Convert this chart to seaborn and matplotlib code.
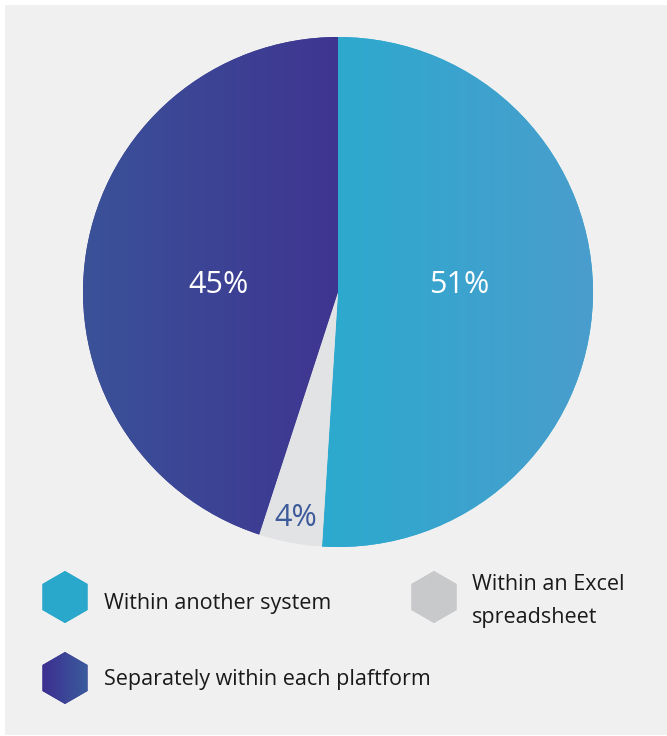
import numpy as np
import matplotlib
matplotlib.use("Agg")
import matplotlib.pyplot as plt
from matplotlib.patches import RegularPolygon, Rectangle
import seaborn as sns

# Where the data is stored
categories = ["Within another system", "Within an Excel spreadsheet",
              "Separately within each plaftform"]
shares = [51, 4, 45]
legend_labels = ["Within another system", "Within an Excel\nspreadsheet",
                 "Separately within each plaftform"]

sns.set_theme(style="white")
plt.rcParams["font.family"] = ["Open Sans", "DejaVu Sans"]

W, H = 667, 736
fig = plt.figure(figsize=(W / 100, H / 100), dpi=100, facecolor="white")

# light grey panel
fig.patches.append(Rectangle((5 / W, 1 / H), 1 - 5 / W, 730 / H,
                             transform=fig.transFigure, facecolor="#f0f0f0",
                             edgecolor="none", zorder=-10))

# gradient colour pairs (left -> right) per slice
wedge_grad = [("#2caacf", "#4a9dcc"), ("#e2e3e5", "#e2e3e5"), ("#3a5299", "#3f3591")]
flat_colors = ["#2caacf", "#e2e3e5", "#3d4496"]

cx, cy, R = 338, 292, 255
ax = fig.add_axes([(cx - R) / W, (H - cy - R) / H, 2 * R / W, 2 * R / H])
ax.set_facecolor("none")
wedges, _ = ax.pie(shares, colors=flat_colors, startangle=90, counterclock=False,
                   wedgeprops=dict(linewidth=0))
ax.set_xlim(-1, 1)
ax.set_ylim(-1, 1)
ax.set_aspect("equal")
ax.axis("off")

for w, (c0, c1) in zip(wedges, wedge_grad):
    bb = w.get_path().get_extents(w.get_patch_transform())
    cmap = sns.blend_palette([c0, c1], as_cmap=True)
    grad = np.linspace(0, 1, 256).reshape(1, -1)
    im = ax.imshow(grad, cmap=cmap, aspect="auto", interpolation="bilinear",
                   extent=[bb.x0, bb.x1, bb.y0, bb.y1], zorder=w.get_zorder() + 0.1)
    im.set_clip_path(w)
ax.set_xlim(-1, 1)
ax.set_ylim(-1, 1)

# percentage labels
label_pos = [(0.475, 0.027), (-0.165, -0.885), (-0.47, 0.027)]
label_colors = ["white", "#3d5b9b", "white"]
for v, (x, y), c in zip(shares, label_pos, label_colors):
    ax.text(x, y, f"{v}%", ha="center", va="center", fontsize=22, color=c, zorder=10)

# legend in pixel coordinates
lax = fig.add_axes([0, 0, 1, 1])
lax.set_xlim(0, W)
lax.set_ylim(H, 0)
lax.axis("off")
lax.set_facecolor("none")

hex_pos = [(65, 597), (434, 597), (65, 678)]
text_pos = [(104, 604), (472, 601), (104, 680)]
hex_grad = [("#2aa8cc", "#2aa8cc"), ("#c8c9cb", "#c8c9cb"), ("#3d2e90", "#3a5c9d")]
for (hx, hy), (tx, ty), lab, (c0, c1) in zip(hex_pos, text_pos, legend_labels, hex_grad):
    hexa = RegularPolygon((hx, hy), numVertices=6, radius=26, facecolor=c0,
                          edgecolor="none")
    lax.add_patch(hexa)
    cmap = sns.blend_palette([c0, c1], as_cmap=True)
    grad = np.linspace(0, 1, 256).reshape(1, -1)
    im = lax.imshow(grad, cmap=cmap, aspect="auto", interpolation="bilinear",
                    extent=[hx - 23, hx + 23, hy + 26, hy - 26], zorder=3)
    im.set_clip_path(hexa)
    lax.text(tx, ty, lab, ha="left", va="center", fontsize=15.5, color="#1a1a1a",
             linespacing=1.8)
lax.set_xlim(0, W)
lax.set_ylim(H, 0)

fig.savefig("out.png", dpi=100, facecolor="white")
